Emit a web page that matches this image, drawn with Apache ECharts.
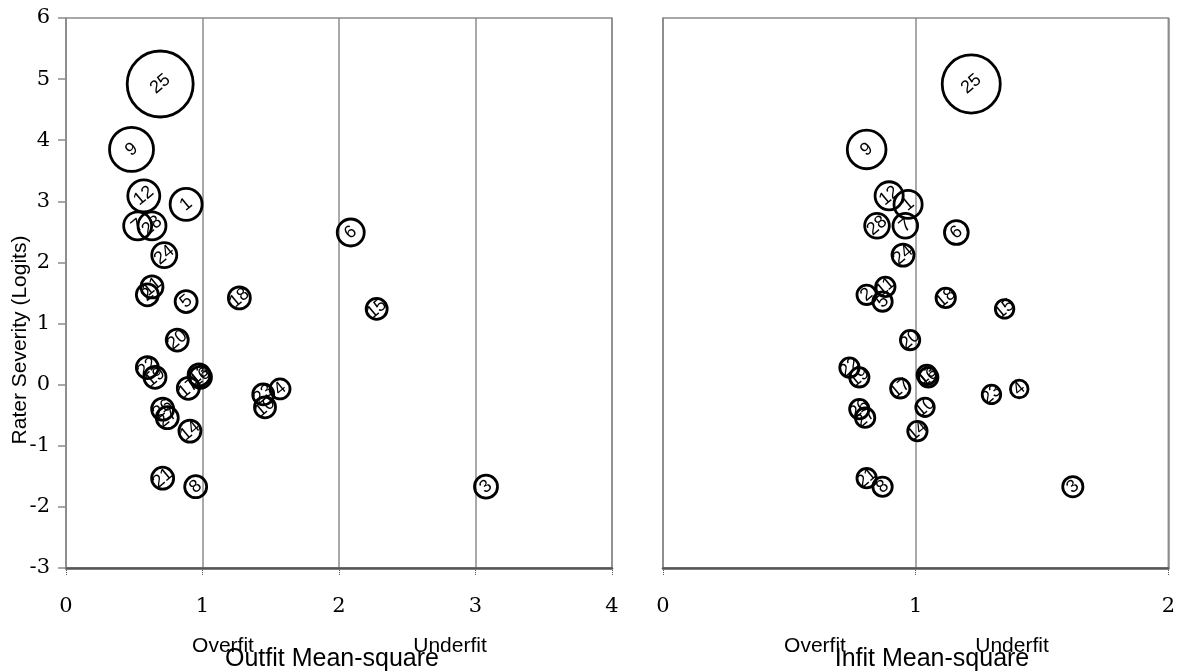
<!DOCTYPE html>
<html>
<head>
<meta charset="utf-8">
<script src="https://cdn.jsdelivr.net/npm/echarts@6/dist/echarts.min.js"></script>
<style>html,body{margin:0;padding:0;background:#fff}#c{width:1178px;height:672px}</style>
</head>
<body>
<div id="c"></div>
<script>
// Rater ids, severity (logits), outfit & infit mean-squares, bubble size
const raters   = [25, 9, 12, 1, 7, 28, 6, 24, 11, 2, 18, 5, 15, 20, 22, 19, 13, 16, 17, 4, 23, 10, 26, 27, 14, 21, 8, 3];
const severity = [4.92, 3.85, 3.09, 2.95, 2.60, 2.60, 2.49, 2.12, 1.60, 1.47, 1.42, 1.36, 1.24, 0.73, 0.28, 0.12, 0.16, 0.12, -0.06, -0.07, -0.16, -0.37, -0.40, -0.54, -0.76, -1.53, -1.67, -1.67];
const outfit   = [0.69, 0.48, 0.57, 0.88, 0.525, 0.63, 2.086, 0.72, 0.63, 0.596, 1.27, 0.88, 2.276, 0.815, 0.596, 0.652, 0.975, 0.985, 0.896, 1.568, 1.445, 1.458, 0.708, 0.742, 0.908, 0.708, 0.95, 3.077];
const infit    = [1.22, 0.806, 0.895, 0.97, 0.959, 0.847, 1.161, 0.95, 0.88, 0.806, 1.119, 0.869, 1.352, 0.978, 0.738, 0.777, 1.044, 1.05, 0.939, 1.41, 1.30, 1.037, 0.777, 0.80, 1.007, 0.806, 0.869, 1.622];
const bubbleSize = [66, 44, 32, 32, 28, 28, 27, 25, 22, 22, 22, 22, 21, 22, 22, 22, 22, 22, 22, 20, 21, 21, 22, 22, 22, 22, 22, 23];
const yTicks = [-3, 6, 1];
const outfitTicks = [0, 4, 1];
const infitTicks = [0, 2, 1];

const chart = echarts.init(document.getElementById('c'));
const gray = '#8c8c8c';
const serif = 'DejaVu Serif';
const sans = 'Liberation Sans';

function xAxis(gi, t) {
  return {
    type: 'value', gridIndex: gi, min: t[0], max: t[1], interval: t[2],
    axisLine: {show: true, onZero: false, lineStyle: {color: '#555', width: 2.5}},
    axisTick: {show: true, length: 8, lineStyle: {color: '#555', type: 'dotted', width: 1}},
    axisLabel: {show: true, margin: 28, fontFamily: serif, fontSize: 21, color: '#000'},
    splitLine: {show: true, lineStyle: {color: gray, width: 1.5}}
  };
}
function yAxis(gi, showLabels) {
  return {
    type: 'value', gridIndex: gi, min: yTicks[0], max: yTicks[1], interval: yTicks[2],
    axisLine: {show: true, onZero: false, lineStyle: {color: gray, width: 1.5}},
    axisTick: {show: showLabels, length: 8, lineStyle: {color: gray, width: 1.5}},
    axisLabel: {show: showLabels, margin: 16, fontFamily: serif, fontSize: 21, color: '#000'},
    splitLine: {show: false}
  };
}
function series(gi, xs, k) {
  return {
    type: 'scatter', xAxisIndex: gi, yAxisIndex: gi,
    data: xs.map((x, i) => [x, severity[i]]),
    symbol: 'circle',
    symbolSize: (v, p) => bubbleSize[p.dataIndex] * k,
    itemStyle: {color: 'rgba(255,255,255,0)', borderColor: '#000', borderWidth: 2.8, opacity: 1},
    label: {
      show: true, position: 'inside', rotate: 40,
      formatter: p => String(raters[p.dataIndex]),
      fontFamily: sans, fontSize: 18, color: '#000'
    },
    emphasis: {disabled: true}
  };
}

chart.setOption({
  animation: false,
  grid: [
    {left: 66, top: 18, width: 546, height: 550, show: true, borderColor: gray, borderWidth: 1.5, backgroundColor: 'transparent'},
    {left: 663, top: 18, width: 507, height: 550, show: true, borderColor: gray, borderWidth: 1.5, backgroundColor: 'transparent'}
  ],
  xAxis: [xAxis(0, outfitTicks), xAxis(1, infitTicks)],
  yAxis: [yAxis(0, true), yAxis(1, false)],
  series: [series(0, outfit, 1), series(1, infit, 0.88)],
  graphic: [
    {type: 'text', x: 223, y: 646, style: {text: 'Overfit', font: '21px ' + sans, fill: '#000', align: 'center', verticalAlign: 'middle'}},
    {type: 'text', x: 450, y: 646, style: {text: 'Underfit', font: '21px ' + sans, fill: '#000', align: 'center', verticalAlign: 'middle'}},
    {type: 'text', x: 332, y: 659, style: {text: 'Outfit Mean-square', font: '25px ' + sans, fill: '#000', align: 'center', verticalAlign: 'middle'}},
    {type: 'text', x: 815, y: 646, style: {text: 'Overfit', font: '21px ' + sans, fill: '#000', align: 'center', verticalAlign: 'middle'}},
    {type: 'text', x: 1012, y: 646, style: {text: 'Underfit', font: '21px ' + sans, fill: '#000', align: 'center', verticalAlign: 'middle'}},
    {type: 'text', x: 932, y: 659, style: {text: 'Infit Mean-square', font: '25px ' + sans, fill: '#000', align: 'center', verticalAlign: 'middle'}},
    {type: 'text', x: 20, y: 340, rotation: Math.PI / 2, style: {text: 'Rater Severity (Logits)', font: '21px ' + sans, fill: '#000', align: 'center', verticalAlign: 'middle'}}
  ]
});
</script>
</body>
</html>
